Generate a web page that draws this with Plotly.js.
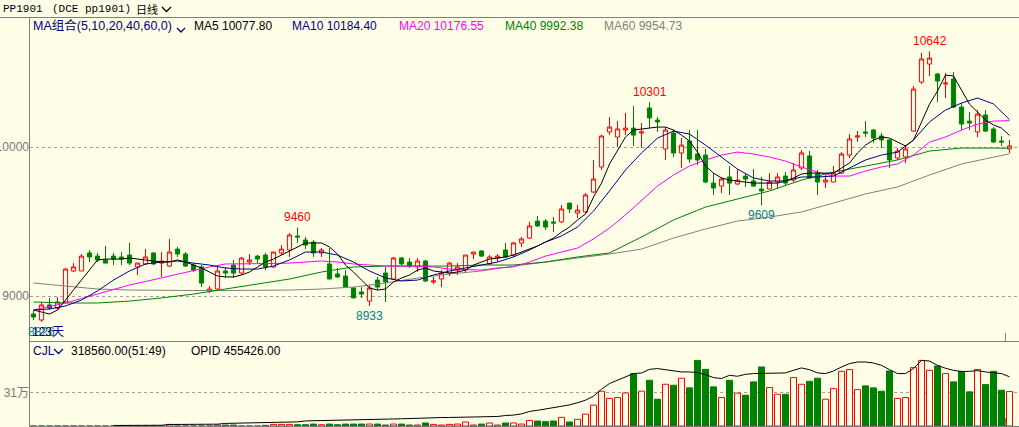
<!DOCTYPE html>
<html><head><meta charset="utf-8">
<script src="https://cdn.plot.ly/plotly-3.0.1.min.js"></script>
<style>html,body{margin:0;padding:0;background:#ffffe8;overflow:hidden}#chart{width:1019px;height:427px}</style>
</head><body><div id="chart"></div>
<script>
// ---------- data ----------
const open = [8879,8839,8940,8919,8960,9168,9168,9289,9268,9242, 9268,9262,9275,9195,9215,9289,9221,9201,9315,9282,
 9208,9195,9034,9047,9168,9208,9154,9228,9268,9275, 9195,9289,9309,9403,9376,9362,9289,9215,9148,9134,
 9054,9027,8966,9107,9154,9114,9255,9228,9195,9235, 9094,9114,9154,9174,9174,9282,9302,9215,9255,9309,
 9275,9356,9389,9503,9503,9497,9497,9624,9557,9564, 9698,9866,10101,10067,10114,10127,10094,10262,10181,9987,
 10094,9960,10040,9953,9946,9758,9738,9799,9752,9805, 9772,9718,9718,9765,9805,9778,9859,9940,9825,9765,
 9765,9825,9946,10067,10101,10114,10074,10047,9926,9933, 10107,10436,10557,10490,10423,10456,10268,10174,10101,10215,
 10121,10040,9987];
const close = [8859,8940,8919,8960,9181,9195,9268,9262,9242,9221, 9248,9248,9221,9221,9262,9215,9235,9295,9282,9201,
 9174,9087,9047,9168,9154,9154,9255,9242,9248,9195, 9295,9315,9409,9396,9342,9289,9309,9114,9128,9060,
 8987,9013,9054,9060,9094,9255,9215,9201,9235,9101, 9101,9154,9221,9195,9275,9295,9268,9262,9268,9262,
 9356,9383,9470,9470,9463,9490,9584,9584,9577,9678, 9785,10074,10134,10121,10127,10080,10101,10195,10168,10114,
 9960,10013,9919,9913,9765,9725,9785,9758,9778,9785, 9738,9705,9765,9799,9758,9846,9960,9792,9765,9778,
 9825,9953,10054,10074,10094,10060,10047,9913,9973,9987, 10389,10591,10597,10443,10429,10268,10154,10161,10221,10107,
 10034,10034,10007];
const high = [8899,8960,8987,8993,9188,9221,9282,9309,9289,9336, 9289,9295,9356,9221,9315,9295,9295,9383,9329,9295,
 9221,9208,9067,9208,9195,9242,9262,9282,9275,9289, 9295,9342,9423,9460,9396,9376,9322,9322,9188,9174,
 9060,9060,9074,9128,9195,9262,9262,9255,9255,9242, 9128,9174,9228,9221,9275,9295,9309,9275,9282,9356,
 9362,9396,9497,9537,9517,9530,9611,9624,9611,9691, 9913,10080,10201,10174,10228,10275,10161,10301,10201,10134,
 10114,10060,10114,10114,9987,9825,9799,9872,9852,9825, 9852,9799,9825,9825,9832,9893,9980,9973,9846,9812,
 9872,9966,10087,10107,10174,10121,10094,10054,9993,10013, 10409,10631,10642,10497,10497,10503,10295,10235,10248,10248,
 10134,10074,10047];
const low = [8839,8826,8906,8906,8953,9161,9168,9228,9228,9221, 9208,9208,9208,9141,9208,9208,9128,9195,9262,9195,
 9161,9060,9020,9040,9121,9121,9141,9208,9221,9174, 9188,9275,9262,9356,9315,9262,9262,9114,9121,9054,
 8987,8987,8933,9040,8960,9107,9208,9188,9161,9094, 9081,9060,9134,9141,9154,9248,9262,9208,9228,9255,
 9262,9329,9383,9463,9443,9430,9490,9557,9523,9557, 9691,9846,10080,10000,10080,10007,9993,10127,10101,9913,
 9933,9859,9893,9879,9758,9678,9691,9678,9745,9732, 9732,9609,9718,9718,9745,9765,9846,9792,9678,9725,
 9765,9819,9926,10034,10067,10027,9993,9859,9913,9893, 10101,10423,10476,10302,10329,10262,10114,10114,10067,10101,
 10027,10007,9960];
const volume = [0,0,0,0,0,0,0,0,0,0, 0,0,0,0,0,0,0,15000,0,0,
 0,0,0,9000,9000,9000,0,0,0,6000, 15000,15000,15000,12000,12000,18000,12000,18000,12000,18000,
 18000,18000,18000,18000,9000,18000,18000,9000,9000,28000, 15000,9000,15000,18000,37000,9000,18000,28000,9000,28000,
 28000,18000,52000,46000,40000,46000,80000,37000,62000,110000, 193000,322000,255000,264000,306000,485000,322000,423000,248000,386000,
 377000,442000,353000,607000,524000,362000,264000,423000,304000,285000, 408000,546000,356000,294000,294000,448000,386000,414000,442000,248000,
 346000,506000,522000,337000,371000,353000,322000,509000,255000,264000, 540000,607000,515000,555000,485000,408000,506000,316000,522000,383000,
 506000,331000,318560];
const openInterest = [null,null,null,null,null,null,null,null,null,null, 5000,5000,6000,6000,6000,7000,7000,14000,14000,15000,
 15000,15000,16000,17000,24000,25000,25000,26000,27000,33000, 34000,35000,36000,38000,47000,48000,49000,50000,52000,58000,
 59000,60000,61000,62000,63000,65000,67000,70000,74000,76000, 77000,78000,79000,80000,81000,82000,83000,86000,88000,97000,
 101000,112000,135000,145000,158000,166000,180000,195000,215000,239000, 276000,340000,393000,423000,460000,485000,490000,524000,531000,521000,
 506000,500000,500000,494000,475000,448000,439000,469000,460000,478000, 485000,485000,485000,485000,491000,515000,537000,521000,491000,485000,
 509000,546000,577000,592000,592000,583000,561000,521000,485000,485000, 531000,607000,601000,561000,534000,515000,503000,506000,512000,500000,
 494000,485000,455426];
const ma5 = [8906,8893,8879,8906,8973,9040,9107,9181,9242,9248, 9248,9248,9255,9248,9242,9235,9228,9228,9242,9228,
 9208,9188,9161,9134,9128,9128,9141,9161,9195,9228, 9248,9275,9302,9329,9356,9356,9356,9329,9282,9208,
 9161,9107,9054,9040,9047,9094,9121,9141,9174,9188, 9168,9161,9154,9161,9174,9208,9228,9248,9255,9262,
 9275,9295,9315,9336,9362,9389,9429,9463,9510,9550, 9664,9758,9886,9980,10067,10114,10121,10127,10134,10134,
 10114,10080,10040,9966,9872,9825,9792,9778,9772,9765, 9758,9758,9758,9758,9772,9792,9819,9825,9825,9825,
 9825,9859,9893,9960,10013,10047,10067,10060,10033,10007, 10047,10168,10288,10376,10483,10477,10383,10288,10235,10181,
 10148,10127,10078];
// MA10 / MA20 read at every second day
const ma10 = [8906,8913,8933,8973,9034,9107,9168,9215,9228,9235, 9221,9208,9188,9181,9181,9201,9242,9295,9295,9275,
 9228,9168,9121,9101,9107,9141,9168,9188,9208,9228, 9262,9309,9362,9403,9463,9570,9705,9846,9960,10060,
 10107,10087,10013,9933,9852,9792,9772,9772,9799,9799, 9805,9859,9913,9946,9966,10047,10168,10248,10295,10329,
 10289,10184];
const ma20 = [8906,8930,8953,8983,9013,9044,9074,9097,9121,9148, 9174,9195,9215,9215,9215,9218,9221,9228,9235,9228,
 9215,9208,9201,9201,9201,9195,9181,9178,9174,9188, 9195,9228,9268,9295,9322,9383,9456,9544,9644,9738,
 9812,9872,9913,9946,9966,9953,9933,9906,9866,9832, 9805,9805,9839,9866,9886,9946,10033,10067,10114,10154,
 10174,10177];
// MA40 / MA60 read at every fourth day (and the last day)
const ma40 = [8960,8953,8953,8966,8987,9013,9047,9081,9114,9161, 9195,9201,9201,9201,9208,9208,9228,9262,9289,9396,
 9510,9597,9651,9705,9778,9832,9872,9913,9973,9993, 9993,9992];
const ma60 = [9087,9067,9047,9040,9037,9037,9037,9037,9040,9047, 9060,9087,9121,9148,9168,9201,9228,9255,9282,9315,
 9389,9450,9503,9530,9564,9624,9685,9732,9812,9886, 9933,9955];
const legendValues = {ma5:'10077.80', ma10:'10184.40', ma20:'10176.55', ma40:'9992.38', ma60:'9954.73'};
const priceTicks = [9000, 10000];
const volTicks = [310000];
const volTickText = ['31万'];
const lastVolumeText = '318560.00(51:49)';
const lastOpidText = '455426.00';
const dayCount = 123;

// ---------- drawing ----------
const W = 1019, H = 427;
const px = x => x / W, py = y => 1 - y / H;
const BG = '#ffffe8', RED = '#ff0000', GREEN = '#008000', NAVY = '#000080', MAG = '#ff00ff', GRAY = '#808080';
const days = []; for (let i = 0; i < dayCount; i++) days.push(i);
const evenDays = days.filter(d => d % 2 === 0);
const quarterDays = days.filter(d => d % 4 === 0).concat([dayCount - 1]);
const up = days.map(i => close[i] >= open[i]);

const line = (x, y, color) => ({type:'scatter', mode:'lines', x, y, xaxis:'x', yaxis:'y',
  line:{color, width:1}, hoverinfo:'skip'});

const traces = [
  {type:'candlestick', x:days, open, high, low, close, xaxis:'x', yaxis:'y', hoverinfo:'skip',
   increasing:{line:{color:RED, width:1}, fillcolor:BG},
   decreasing:{line:{color:GREEN, width:1}, fillcolor:GREEN}, whiskerwidth:0},
  line(quarterDays, ma60, GRAY),
  line(quarterDays, ma40, GREEN),
  line(evenDays, ma20, MAG),
  line(evenDays, ma10, NAVY),
  line(days, ma5, '#000000'),
  {type:'bar', x:days, y:volume, xaxis:'x', yaxis:'y2', width:0.75, hoverinfo:'skip',
   marker:{color:up.map(u => u ? BG : GREEN), line:{color:up.map(u => u ? RED : GREEN), width:1}}},
  {type:'scatter', mode:'lines', x:days, y:openInterest, xaxis:'x', yaxis:'y2',
   line:{color:'#000000', width:1}, hoverinfo:'skip'}
];

const F = 'Liberation Sans, Noto Sans CJK SC, sans-serif';
function txt(t, x, y, color, extra) {
  return Object.assign({text:t, xref:'paper', yref:'paper', x:px(x), y:py(y), xanchor:'left', yanchor:'middle',
    showarrow:false, borderpad:0, font:{family:F, size:12, color}}, extra || {});
}
const mono = {font:{family:'Liberation Mono, Noto Sans CJK SC, monospace', size:11, color:'#000000'}};
const annotations = [
  txt('PP1901', 2, 9, '#000', mono),
  txt('(DCE pp1901)', 51, 9, '#000', mono),
  txt('日线', 135, 9, '#000', {font:{family:'Noto Sans CJK SC', size:11, color:'#000'}}),
  txt('MA组合(5,10,20,40,60,0)', 32, 26, NAVY, {font:{family:F, size:12.5, color:NAVY}}),
  txt('MA5 ' + legendValues.ma5, 193, 26, '#000000'),
  txt('MA10 ' + legendValues.ma10, 291, 26, NAVY),
  txt('MA20 ' + legendValues.ma20, 398, 26, MAG),
  txt('MA40 ' + legendValues.ma40, 504, 26, GREEN),
  txt('MA60 ' + legendValues.ma60, 603, 26, GRAY),
  txt('CJL', 32, 351, NAVY),
  txt(lastVolumeText, 70, 351, '#000000'),
  txt('OPID ' + lastOpidText, 190, 351, '#000000'),
];
// extreme-price labels
function hiLabel(d) { return {text:String(high[d]), xref:'x', yref:'y', x:d, y:high[d], xanchor:'center', yanchor:'bottom',
  yshift:2, showarrow:false, borderpad:0, font:{family:F, size:12, color:RED}}; }
function loLabel(d) { return {text:String(low[d]), xref:'x', yref:'y', x:d, y:low[d], xanchor:'center', yanchor:'top',
  yshift:-2, showarrow:false, borderpad:0, font:{family:F, size:12, color:'#008080'}}; }
annotations.push(hiLabel(112), hiLabel(77), hiLabel(33), loLabel(42), loLabel(91), loLabel(1));
annotations.push(txt(dayCount + '天', 31, 332, NAVY));

const L = (x0, y0, x1, y1, color) => ({type:'line', xref:'paper', yref:'paper', x0:px(x0), y0:py(y0), x1:px(x1), y1:py(y1),
  line:{color:color || GRAY, width:1}});
const P = (pts, color) => ({type:'path', xref:'paper', yref:'paper',
  path:'M' + pts.map(p => px(p[0]) + ',' + py(p[1])).join(' L'), line:{color, width:1.3}});
const shapes = [
  L(0, 17.5, W, 17.5),
  L(29.5, 17.5, 29.5, H),
  L(29.5, 341.5, W, 341.5),
  L(29.5, 426.5, W, 426.5),
  L(1005.5, 333, 1005.5, 341),
  L(1005.5, 418, 1005.5, 426),
  P([[162,7],[166.5,11.5],[171,7]], '#000000'),
  P([[177,28],[181,32],[185,28]], NAVY),
  P([[54,349],[58.5,353.5],[63,349]], NAVY),
];

const layout = {
  width:W, height:H, margin:{l:0, r:0, t:0, b:0}, paper_bgcolor:BG, plot_bgcolor:BG, showlegend:false,
  boxgap:0.25, barmode:'overlay',
  xaxis:{domain:[px(30), 1], range:[-0.4375, 123.1875], showgrid:false, zeroline:false, showticklabels:false,
    ticks:'', showline:false, rangeslider:{visible:false}, fixedrange:true},
  yaxis:{domain:[py(341), py(18)], range:[8698, 10866], tickvals:priceTicks, ticktext:priceTicks.map(String),
    showgrid:true, gridcolor:'#a0a0a0', griddash:'dot', gridwidth:1, zeroline:false, showline:false, ticks:'',
    tickfont:{family:F, size:12, color:'#787878'}, fixedrange:true},
  yaxis2:{domain:[py(426), py(342)], range:[0, 777000], tickvals:volTicks, ticktext:volTickText,
    showgrid:true, gridcolor:'#a0a0a0', griddash:'dot', gridwidth:1, zeroline:false, showline:false, ticks:'',
    tickfont:{family:F, size:12, color:'#787878'}, fixedrange:true},
  annotations, shapes
};
Plotly.newPlot('chart', traces, layout, {staticPlot:true, displayModeBar:false});
</script></body></html>
